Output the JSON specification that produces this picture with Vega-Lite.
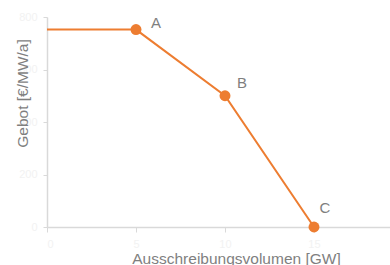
{
  "$schema": "https://vega.github.io/schema/vega-lite/v6.json",
  "width": 343,
  "height": 210,
  "autosize": "none",
  "padding": {"left": 47, "top": 17, "right": 0, "bottom": 38},
  "background": "white",
  "config": {"view": {"stroke": null}, "font": "Liberation Sans"},
  "data": {"values": [
    {"volumen": 0, "gebot": 752, "punkt": ""},
    {"volumen": 5, "gebot": 752, "punkt": "A"},
    {"volumen": 10, "gebot": 500, "punkt": "B"},
    {"volumen": 15, "gebot": 0, "punkt": "C"}
  ]},
  "encoding": {
    "x": {"field": "volumen", "type": "quantitative",
      "scale": {"domain": [0, 19.27], "nice": false},
      "axis": {"values": [0, 5, 10, 15], "title": "Ausschreibungsvolumen [GW]", "grid": false,
        "domainColor": "#d9d9d9", "domainWidth": 1.5, "tickColor": "#d9d9d9", "tickSize": 5,
        "labelColor": "#f2f2f2", "labelFontSize": 11, "labelPadding": 6,
        "titleColor": "#7f7f7f", "titleFontSize": 15.5, "titleFontWeight": "normal",
        "titleX": 189, "titleY": 31, "titleBaseline": "middle"}},
    "y": {"field": "gebot", "type": "quantitative",
      "scale": {"domain": [0, 800], "nice": false},
      "axis": {"values": [0, 200, 400, 600, 800], "title": "Gebot [€/MW/a]", "grid": false,
        "domainColor": "#d9d9d9", "domainWidth": 1.5, "tickColor": "#d9d9d9", "tickSize": 4,
        "labelColor": "#f2f2f2", "labelFontSize": 11, "labelPadding": 6,
        "titleColor": "#7f7f7f", "titleFontSize": 15.5, "titleFontWeight": "normal",
        "titleAngle": -90, "titleX": -25, "titleY": 76, "titleAlign": "center", "titleBaseline": "middle"}}
  },
  "layer": [
    {"mark": {"type": "line", "color": "#ED7D31", "strokeWidth": 2}},
    {"transform": [{"filter": "datum.punkt != ''"}],
     "mark": {"type": "circle", "color": "#ED7D31", "opacity": 1, "size": 120}},
    {"transform": [{"filter": "datum.punkt == 'A'"}],
     "mark": {"type": "text", "dx": 20, "dy": -7, "color": "#7f7f7f", "fontSize": 15, "align": "center", "baseline": "middle"},
     "encoding": {"text": {"field": "punkt"}}},
    {"transform": [{"filter": "datum.punkt == 'B'"}],
     "mark": {"type": "text", "dx": 17, "dy": -13, "color": "#7f7f7f", "fontSize": 15, "align": "center", "baseline": "middle"},
     "encoding": {"text": {"field": "punkt"}}},
    {"transform": [{"filter": "datum.punkt == 'C'"}],
     "mark": {"type": "text", "dx": 11, "dy": -19, "color": "#7f7f7f", "fontSize": 15, "align": "center", "baseline": "middle"},
     "encoding": {"text": {"field": "punkt"}}}
  ]
}
